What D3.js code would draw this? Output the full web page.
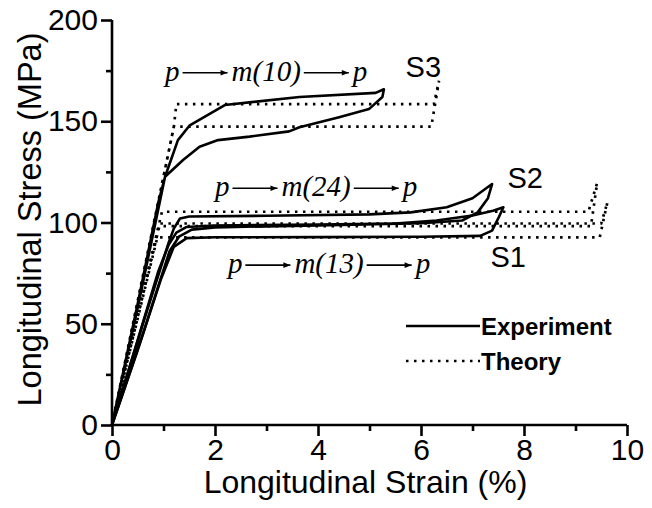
<!DOCTYPE html>
<html>
<head>
<meta charset="utf-8">
<script src="https://cdn.jsdelivr.net/npm/d3@7"></script>
<style>
  html, body { margin: 0; padding: 0; background: #fff; }
  svg { display: block; }
</style>
</head>
<body>
<svg id="chart" width="652" height="508"></svg>
<script>
// ---- data (strain %, stress MPa) ----
const xTicks = [0, 2, 4, 6, 8, 10];
const yTicks = [0, 50, 100, 150, 200];
const xMinor = [1, 3, 5, 7, 9];
const yMinor = [25, 75, 125, 175];

const expS1 = [[0,0],[0.5,42],[0.9,76],[1.1,89],[1.25,95],[1.45,97.8],[2,98.5],[4,99],[5.5,99.5],[6.3,101],[7,103.5],[7.4,105.8],[7.6,107.5],
  [7.5,102],[7.38,96],[7.15,93.4],[6,93],[4,92.8],[2,92.7],[1.45,92.3],[1.2,88],[0.95,72],[0.5,37],[0,0]];
const expS2 = [[0,0],[0.6,50],[1.1,90],[1.2,97],[1.32,102],[1.5,103],[3,103.3],[5,104],[5.8,105],[6.5,107.5],[7,112],[7.38,119],
  [7.3,112],[7.1,105],[6.8,101],[6,99.6],[4,98.6],[2,97.6],[1.55,96.5],[1.3,93],[1.12,86],[0.6,45],[0,0]];
const expS3 = [[0,0],[0.5,60],[0.9,110],[1.03,122.6],[1.28,140.7],[1.51,148],[2.19,158],[3.64,162],[5.12,164],[5.28,165.8],
  [5.25,162],[4.99,156],[4.41,152],[3.64,147],[3.44,145],[2.67,142.4],[2.06,140.7],[1.7,137.4],[1.38,130.9],[1.03,122.6],[0.5,58],[0,0]];

const thS1 = [[0,0],[0.92,99.5],[9.5,99.5],[9.62,110],[9.47,92.7],[0.88,92.7],[0,0]];
const thS2 = [[0,0],[0.97,105.3],[9.25,105.3],[9.42,119.5],[9.3,98.2],[0.92,98.2],[0,0]];
const thS3 = [[0,0],[1.2,147],[1.25,158.5],[6.25,158.5],[6.35,170],[6.2,147.3],[1.2,147.3],[0,0]];

const experimentSeries = [expS1, expS2, expS3];
const theorySeries = [thS1, thS2, thS3];

const seriesLabels = [
  {text: "S3", x: 5.7, y: 172},
  {text: "S2", x: 7.68, y: 117},
  {text: "S1", x: 7.35, y: 78}
];
const annotations = [
  {mid: "m(10)", x: 1.03, y: 170},
  {mid: "m(24)", x: 2.0, y: 113},
  {mid: "m(13)", x: 2.25, y: 75}
];
const legendItems = [
  {label: "Experiment", dash: null},
  {label: "Theory", dash: "2.5,5.5"}
];

// ---- layout ----
const svg = d3.select("#chart");
const x = d3.scaleLinear().domain([0, 10]).range([112, 627]);
const y = d3.scaleLinear().domain([0, 200]).range([425, 20]);

const line = d3.line().x(d => x(d[0])).y(d => y(d[1]));

// theory (dotted)
svg.append("g").selectAll("path").data(theorySeries).join("path")
  .attr("d", line).attr("fill", "none").attr("stroke", "#000")
  .attr("stroke-width", 2.7).attr("stroke-dasharray", "2.5,5.5");

// experiment (solid)
svg.append("g").selectAll("path").data(experimentSeries).join("path")
  .attr("d", line).attr("fill", "none").attr("stroke", "#000")
  .attr("stroke-width", 2.6).attr("stroke-linejoin", "round");

// axes
const xAxis = svg.append("g").attr("transform", `translate(0,${y(0)})`)
  .call(d3.axisBottom(x).tickValues(xTicks).tickSize(11).tickPadding(3).tickFormat(d3.format("d")));
const xAxisMinor = svg.append("g").attr("transform", `translate(0,${y(0)})`)
  .call(d3.axisBottom(x).tickValues(xMinor).tickSize(6).tickFormat(""));
const yAxis = svg.append("g").attr("transform", `translate(${x(0)},0)`)
  .call(d3.axisLeft(y).tickValues(yTicks).tickSize(11).tickPadding(3).tickFormat(d3.format("d")));
const yAxisMinor = svg.append("g").attr("transform", `translate(${x(0)},0)`)
  .call(d3.axisLeft(y).tickValues(yMinor).tickSize(6).tickFormat(""));

[xAxis, xAxisMinor, yAxis, yAxisMinor].forEach(g => {
  g.select(".domain").attr("stroke-width", 2.6).attr("stroke", "#000");
  g.selectAll(".tick line").attr("stroke-width", 2.6).attr("stroke", "#000");
  g.selectAll("text").attr("font-family", "Liberation Sans, Arial, sans-serif")
    .attr("font-size", 30).attr("fill", "#000");
});
xAxisMinor.select(".domain").remove();
yAxisMinor.select(".domain").remove();
xAxis.select(".domain").attr("d", `M${x(0)},0H${x(10)}`);
yAxis.select(".domain").attr("d", `M0,${y(200)}V${y(0)}`);

// axis titles
svg.append("text").attr("x", x(5) - 4).attr("y", 493)
  .attr("text-anchor", "middle").attr("font-family", "Liberation Sans, Arial, sans-serif")
  .attr("font-size", 32).text("Longitudinal Strain (%)");
svg.append("text").attr("transform", `translate(41,${y(100) - 3}) rotate(-90)`)
  .attr("text-anchor", "middle").attr("font-family", "Liberation Sans, Arial, sans-serif")
  .attr("font-size", 32.5).text("Longitudinal Stress (MPa)");

// series labels
svg.append("g").selectAll("text").data(seriesLabels).join("text")
  .attr("x", d => x(d.x)).attr("y", d => y(d.y))
  .attr("font-family", "Liberation Sans, Arial, sans-serif").attr("font-size", 29)
  .text(d => d.text);

// arrow marker
svg.append("defs").append("marker").attr("id", "arr")
  .attr("viewBox", "0 0 10 10").attr("refX", 10).attr("refY", 5)
  .attr("markerWidth", 12).attr("markerHeight", 7).attr("markerUnits", "userSpaceOnUse")
  .attr("orient", "auto")
  .append("path").attr("d", "M0,1L10,5L0,9Z").attr("fill", "#000");

// annotations p -> m(n) -> p
annotations.forEach(a => {
  const g = svg.append("g");
  let cx = x(a.x);
  const by = y(a.y);
  const font = {family: "Liberation Serif, Times New Roman, serif", size: 29};
  const addText = (t) => {
    const el = g.append("text").attr("x", cx).attr("y", by)
      .attr("font-family", font.family).attr("font-style", "italic")
      .attr("font-size", font.size).text(t);
    cx += el.node().getComputedTextLength();
  };
  const addArrow = () => {
    g.append("line").attr("x1", cx + 3).attr("x2", cx + 48)
      .attr("y1", by - 8).attr("y2", by - 8)
      .attr("stroke", "#000").attr("stroke-width", 1.6).attr("marker-end", "url(#arr)");
    cx += 52;
  };
  addText("p"); addArrow(); addText(a.mid); addArrow(); addText("p");
});

// legend
const leg = svg.append("g");
legendItems.forEach((d, i) => {
  const ly = 326 + i * 35;
  leg.append("line").attr("x1", 406).attr("x2", 480).attr("y1", ly).attr("y2", ly)
    .attr("stroke", "#000").attr("stroke-width", 2.7)
    .attr("stroke-dasharray", d.dash);
  leg.append("text").attr("x", 481).attr("y", ly + 9)
    .attr("font-family", "Liberation Sans, Arial, sans-serif").attr("font-weight", "bold")
    .attr("font-size", 24).text(d.label);
});
</script>
</body>
</html>
